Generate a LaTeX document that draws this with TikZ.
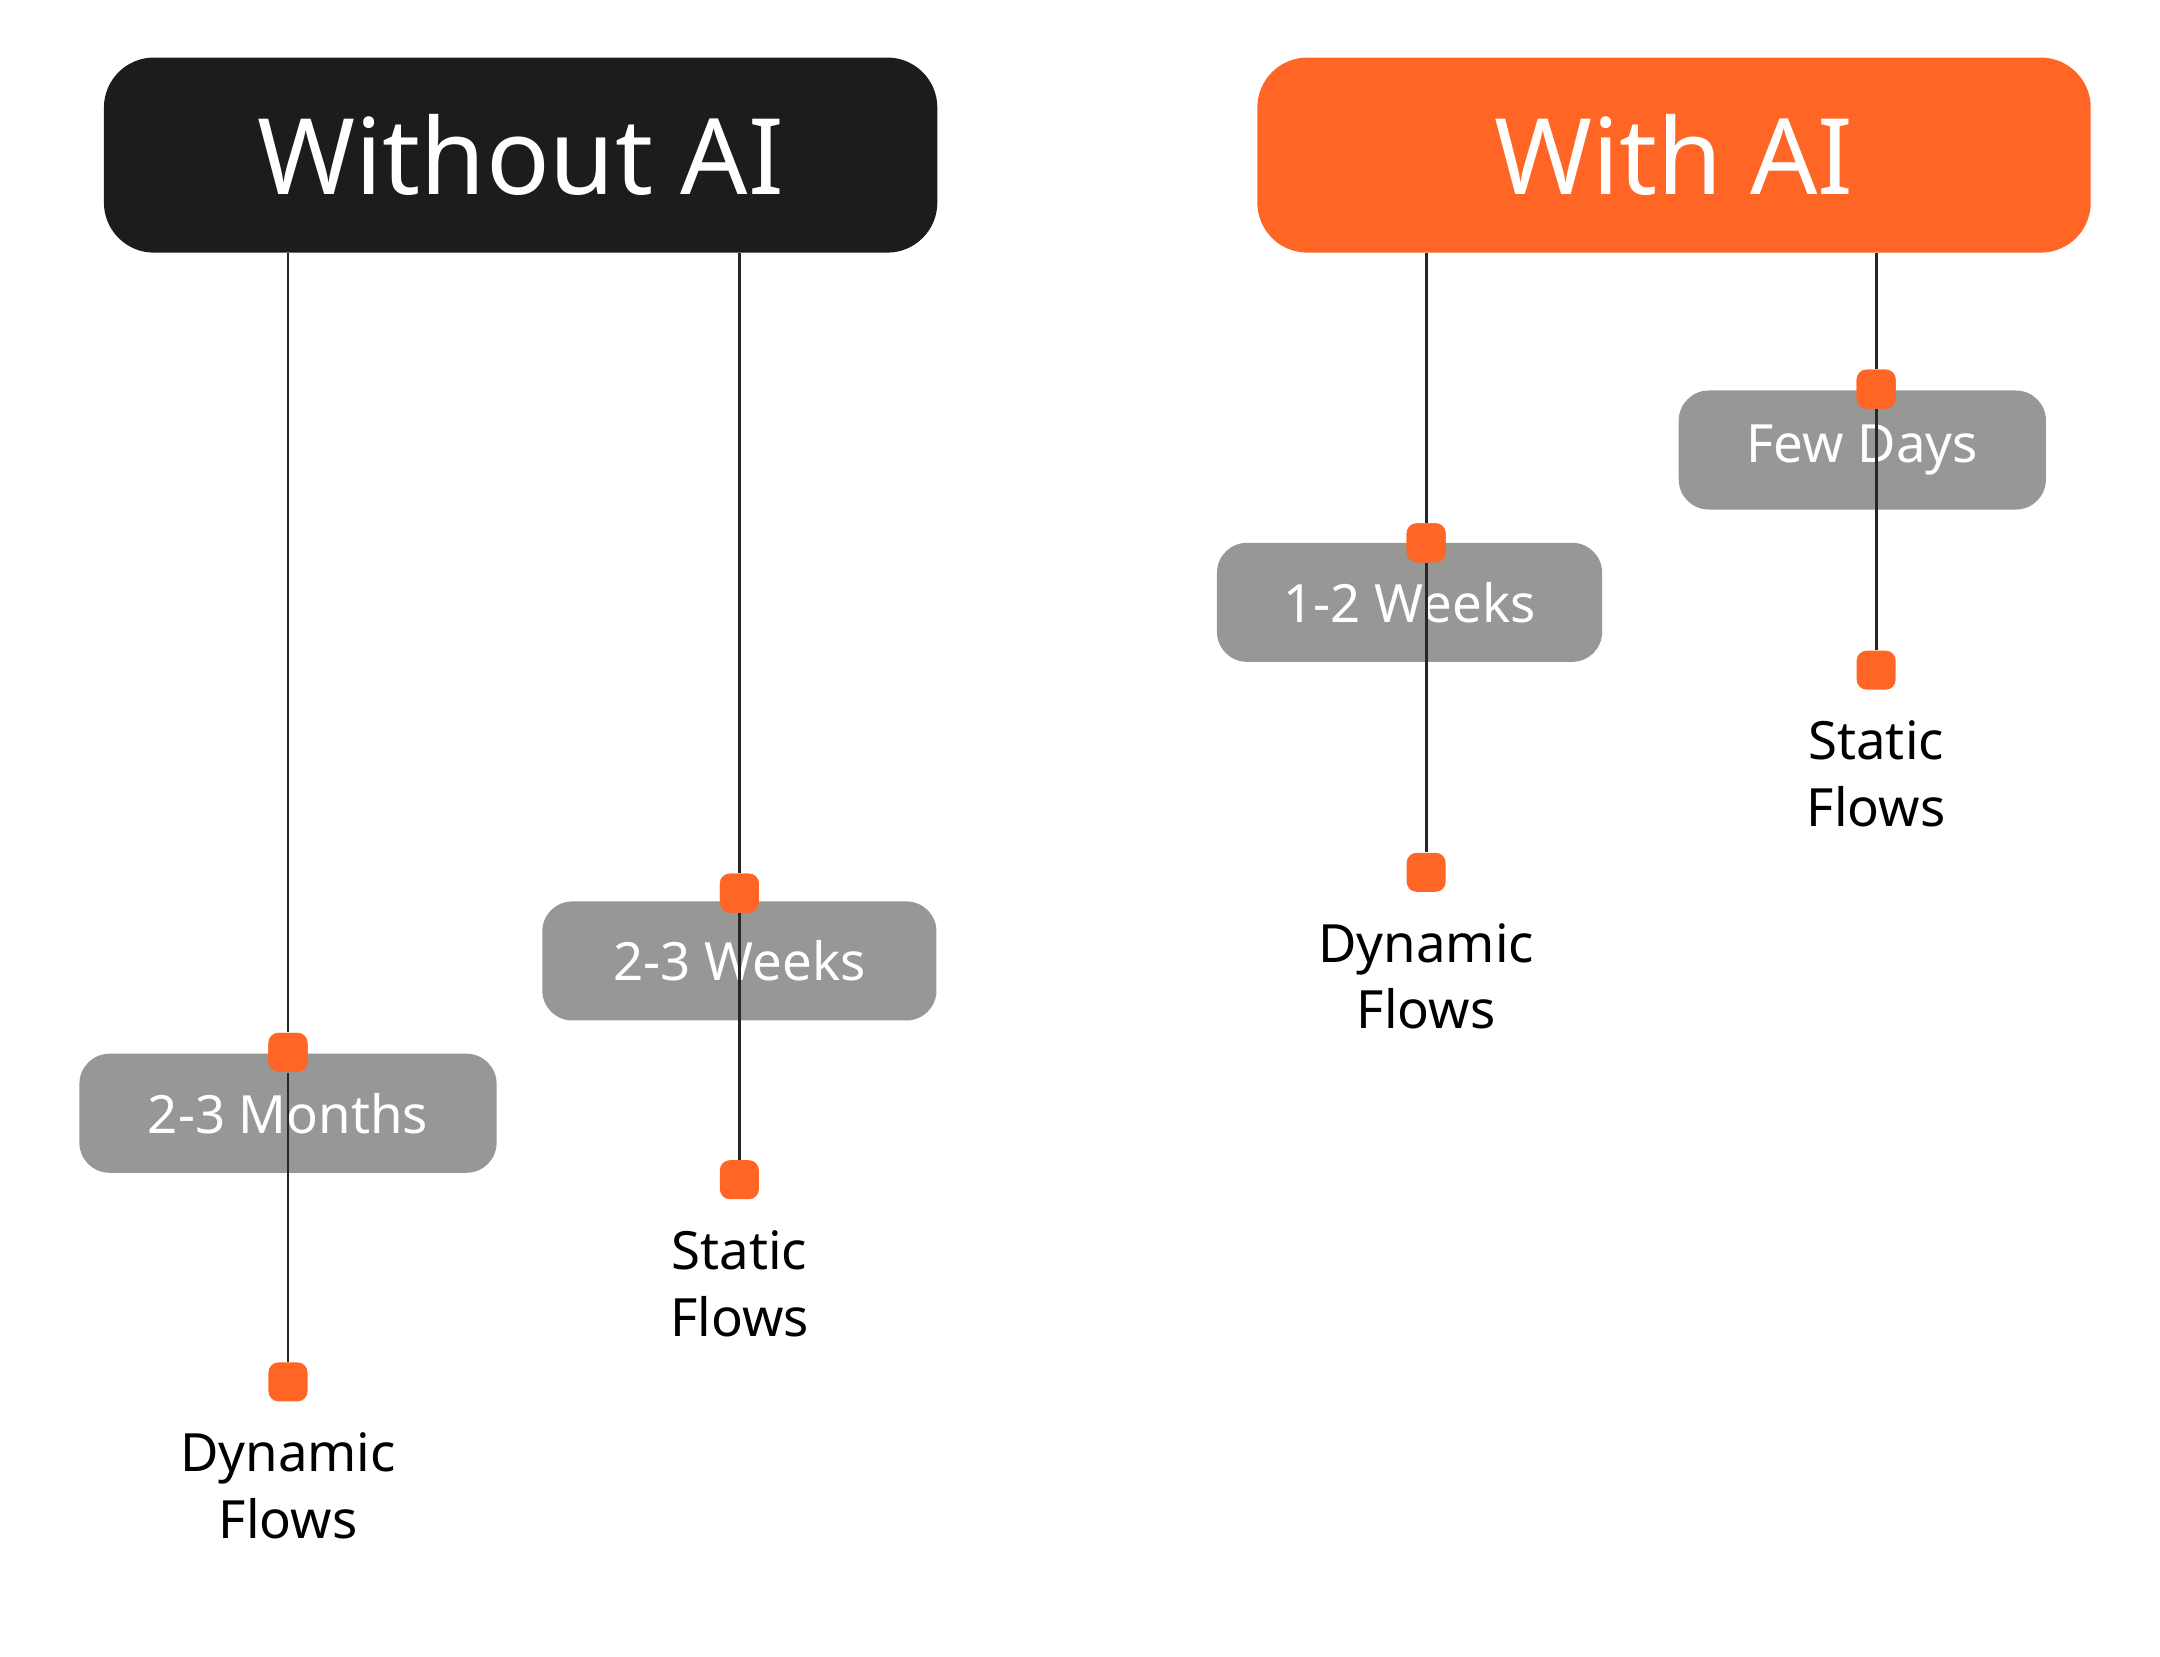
\documentclass[tikz,border=0pt]{standalone}
\usepackage{fontspec}
\setmainfont{Noto Sans}
\usetikzlibrary{positioning}
\definecolor{aiorange}{HTML}{FF6625}
\definecolor{boxgray}{HTML}{979795}
\definecolor{headblack}{HTML}{1D1C1A}
\tikzset{
  head/.style={rounded corners=0.5cm, minimum width=8.33cm, minimum height=1.95cm, text=white, font=\fontsize{30}{30}\selectfont\bfseries},
  span/.style={fill=boxgray, rounded corners=0.3cm, minimum height=1.19cm, text=white, font=\fontsize{15}{15}\selectfont},
  dot/.style={fill=aiorange, rounded corners=0.1cm, minimum size=0.39cm, inner sep=0pt},
  lbl/.style={align=center, font=\fontsize{15}{19}\selectfont, inner sep=0pt},
  wire/.style={thick, black!85}
}
\begin{document}
\begin{tikzpicture}[x=0.013846cm, y=-0.013846cm]
		\useasboundingbox (0,0) rectangle (1560,1196);

		% Headers
		\node[head, fill=headblack] (noai) at (376,112) {Without AI};
		\node[head, fill=aiorange] (withai) at (1209,112) {With AI};

		% Duration boxes
		\node[span, minimum width=4.17cm] (months) at (208,804) {2-3 Months};
		\node[span, minimum width=3.94cm] (weeksA) at (534,694) {2-3 Weeks};
		\node[span, minimum width=3.85cm] (weeksB) at (1018,435) {1-2 Weeks};
		\node[span, minimum width=3.67cm] (days) at (1345,325) {Few Days};

		% Coordinates on header bottom
		\coordinate (n1) at (208,183);
		\coordinate (n2) at (534,183);
		\coordinate (w1) at (1030,183);
		\coordinate (w2) at (1355,183);

		% Markers
		\node[dot] (m1) at (208,760) {};
		\node[dot] (m2) at (208,998) {};
		\node[dot] (m3) at (534,645) {};
		\node[dot] (m4) at (534,852) {};
		\node[dot] (m5) at (1030,392) {};
		\node[dot] (m6) at (1030,630) {};
		\node[dot] (m7) at (1355,281) {};
		\node[dot] (m8) at (1355,484) {};

		% Wires
		\begin{scope}[on background layer/.style={}]
		\draw[wire] (n1) -- (m1);
		\draw[wire] (m1) -- (m2);
		\draw[wire] (n2) -- (m3);
		\draw[wire] (m3) -- (m4);
		\draw[wire] (w1) -- (m5);
		\draw[wire] (m5) -- (m6);
		\draw[wire] (w2) -- (m7);
		\draw[wire] (m7) -- (m8);
		\end{scope}
		\node[dot] at (m1) {};
		\node[dot] at (m3) {};
		\node[dot] at (m5) {};
		\node[dot] at (m7) {};

		% Labels
		\node[lbl, below=0.3cm of m2] (t1) {Dynamic\\Flows};
		\node[lbl, below=0.3cm of m4] (t2) {Static\\Flows};
		\node[lbl, below=0.3cm of m6] (t3) {Dynamic\\Flows};
		\node[lbl, below=0.3cm of m8] (t4) {Static\\Flows};
	\end{tikzpicture}
\end{document}
